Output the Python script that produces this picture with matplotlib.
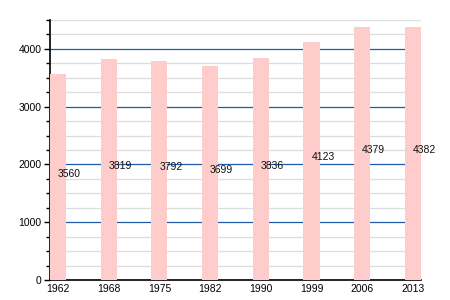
import matplotlib
matplotlib.use("Agg")
import matplotlib.pyplot as plt
from matplotlib.ticker import MultipleLocator

years = ['1962', '1968', '1975', '1982', '1990', '1999', '2006', '2013']
population = [3560, 3819, 3792, 3699, 3836, 4123, 4379, 4382]

plt.rcParams['font.family'] = ['Liberation Sans', 'DejaVu Sans']

fig = plt.figure(figsize=(4.5, 3), dpi=100, facecolor='white')
ax = fig.add_axes([0.111, 0.0667, 0.8244, 0.8667])

x = list(range(len(years)))
ax.bar(x, population, width=0.316, color='#ffcccc', zorder=3)

for xi, v in zip(x, population):
    ax.text(xi, v / 2 + 60, str(v), ha='left', va='center', fontsize=7.5,
            color='#111111', zorder=4)

ax.set_xlim(-0.158, len(years) - 1 + 0.158)
ax.set_ylim(0, 4500)
ax.set_xticks(x)
ax.set_xticklabels(years)
ax.yaxis.set_major_locator(MultipleLocator(1000))
ax.yaxis.set_minor_locator(MultipleLocator(250))

ax.grid(which='minor', axis='y', color='#dddddd', linewidth=0.9, zorder=1)
ax.grid(which='major', axis='y', color='#1f5ca8', linewidth=0.9, zorder=2)
ax.set_axisbelow(True)

for s in ['top', 'right']:
    ax.spines[s].set_visible(False)
ax.spines['left'].set_linewidth(1.2)
ax.spines['bottom'].set_linewidth(1.2)

ax.tick_params(axis='x', length=0, labelsize=7.5, pad=3)
ax.tick_params(axis='y', which='major', length=4, width=1, labelsize=7.5, pad=2)
ax.tick_params(axis='y', which='minor', length=3, width=1)

fig.savefig('out.png', dpi=100)
